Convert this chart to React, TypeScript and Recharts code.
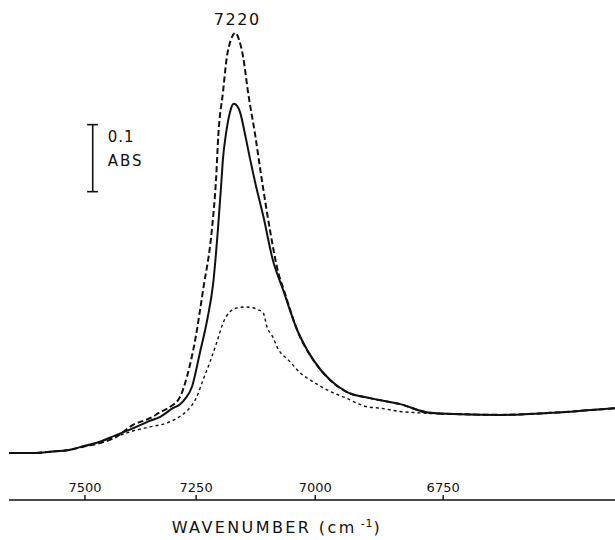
import { LineChart, Line, XAxis, YAxis, ReferenceLine, ReferenceDot } from 'recharts';

// Near-IR absorbance traces, sampled along wavenumber (cm-1), high to low.
const solidWavenumbers = [
  7681, 7630, 7582, 7535, 7500, 7465, 7431, 7397, 7352, 7329, 7301, 7285, 7274, 7259, 7242,
  7226, 7213, 7203, 7196, 7192, 7186, 7177, 7173, 7169, 7162, 7156, 7145, 7135, 7124, 7107,
  7087, 7066, 7037, 7004, 6970, 6936, 6891, 6832, 6775, 6718, 6644, 6554, 6501, 6441,
];
const solidAbsorbance = [
  0.07, 0.07, 0.072, 0.075, 0.081, 0.087, 0.096, 0.105, 0.118, 0.124, 0.137, 0.143, 0.151, 0.169, 0.219,
  0.269, 0.324, 0.403, 0.47, 0.51, 0.545, 0.579, 0.588, 0.591, 0.588, 0.579, 0.545, 0.51, 0.474, 0.424,
  0.358, 0.314, 0.254, 0.209, 0.179, 0.161, 0.152, 0.143, 0.13, 0.128, 0.127, 0.13, 0.133, 0.137,
];

const dashedWavenumbers = [
  7681, 7630, 7582, 7535, 7500, 7465, 7431, 7390, 7352, 7329, 7307, 7285, 7270, 7252, 7235,
  7216, 7207, 7202, 7192, 7184, 7175, 7166, 7158, 7149, 7139, 7124, 7110, 7093, 7076, 7064,
  7037, 7004, 6970, 6936, 6891, 6832, 6775, 6718, 6644, 6554, 6501, 6441,
];
const dashedAbsorbance = [
  0.07, 0.07, 0.072, 0.075, 0.08, 0.085, 0.093, 0.112, 0.122, 0.131, 0.139, 0.154, 0.184, 0.239, 0.313,
  0.403, 0.478, 0.545, 0.609, 0.66, 0.687, 0.697, 0.687, 0.66, 0.609, 0.545, 0.478, 0.403, 0.34, 0.313,
  0.254, 0.209, 0.179, 0.161, 0.152, 0.143, 0.13, 0.128, 0.127, 0.13, 0.133, 0.137,
];

const dottedWavenumbers = [
  7681, 7630, 7582, 7535, 7500, 7465, 7431, 7390, 7352, 7314, 7285, 7270, 7250, 7235, 7220,
  7205, 7192, 7177, 7160, 7145, 7130, 7118, 7107, 7099, 7087, 7078, 7051, 7031, 7010, 6964,
  6944, 6896, 6871, 6832, 6794, 6775, 6718, 6644, 6554, 6501, 6441,
];
const dottedAbsorbance = [
  0.07, 0.07, 0.072, 0.075, 0.08, 0.087, 0.094, 0.103, 0.109, 0.115, 0.125, 0.133, 0.152, 0.179, 0.206,
  0.236, 0.264, 0.281, 0.287, 0.288, 0.287, 0.284, 0.279, 0.258, 0.243, 0.228, 0.206, 0.19, 0.179, 0.16,
  0.154, 0.139, 0.137, 0.132, 0.13, 0.129, 0.128, 0.127, 0.13, 0.133, 0.137,
];

const tickWavenumbers = [7500, 7250, 7000, 6750];
const rangeWavenumbers = [7681, 6441];
const absorbanceRange = [0, 0.74];

const peakLabel = '7220';
const scaleBarWavenumber = 7482;
const scaleBarCapWavenumbers = [7495, 7470];
const scaleBarBottom = 0.46;
const scaleBarSize = 0.1;

const INK = '#111';
const FONT = '"DejaVu Sans", sans-serif';

// the abscissa is drawn linear in wavelength (nm), labelled in wavenumber
const toLambda = (nu: number) => 1e7 / nu;

const buildSeries = (nu: number[], abs: number[]) =>
  nu.map((n, i) => ({ lambda: toLambda(n), abs: abs[i] }));

const solidData = buildSeries(solidWavenumbers, solidAbsorbance);
const dashedData = buildSeries(dashedWavenumbers, dashedAbsorbance);
const dottedData = buildSeries(dottedWavenumbers, dottedAbsorbance);

const dashedPeak = dashedData.reduce((a, b) => (b.abs > a.abs ? b : a));

const scaleTop = scaleBarBottom + scaleBarSize;

function AxisTitle({ viewBox }: any) {
  const x = viewBox.x + 268;
  const y = viewBox.y + viewBox.height + 33;
  return (
    <text x={x} y={y} textAnchor="middle" fill={INK} fontFamily={FONT} fontSize={16} letterSpacing={2.4}>
      WAVENUMBER (cm
      <tspan dx={4} dy={-6} fontSize={11} letterSpacing={1}>-1</tspan>
      <tspan dy={6}>)</tspan>
    </text>
  );
}

function ScaleLabel({ viewBox }: any) {
  const x = viewBox.x + 15;
  const y = viewBox.y;
  return (
    <g fill={INK} fontFamily={FONT} fontSize={15}>
      <text x={x} y={y + 17} letterSpacing={1}>{scaleBarSize.toFixed(1)}</text>
      <text x={x} y={y + 41} letterSpacing={2}>ABS</text>
    </g>
  );
}

function PeakLabel({ viewBox }: any) {
  return (
    <text
      x={viewBox.x + 2}
      y={viewBox.y - 8}
      textAnchor="middle"
      fill={INK}
      fontFamily={FONT}
      fontSize={16}
      letterSpacing={1.5}
    >
      {peakLabel}
    </text>
  );
}

export default function App() {
  return (
    <div style={{ position: 'absolute', left: 0, top: 0, background: '#fff' }}>
      <LineChart width={615} height={540} margin={{ top: 4, right: 0, bottom: 40, left: 9 }}>
        <XAxis
          dataKey="lambda"
          type="number"
          domain={rangeWavenumbers.map(toLambda)}
          allowDataOverflow
          ticks={tickWavenumbers.map(toLambda)}
          tickFormatter={(v: number) => String(Math.round(1e7 / v))}
          mirror
          tickSize={5}
          tickMargin={3}
          axisLine={{ stroke: INK, strokeWidth: 1.6 }}
          tickLine={{ stroke: INK, strokeWidth: 1.4 }}
          tick={{ fill: INK, fontSize: 13, fontFamily: FONT }}
          label={<AxisTitle />}
        />
        <YAxis type="number" domain={absorbanceRange} allowDataOverflow hide />

        <ReferenceLine
          segment={[
            { x: toLambda(scaleBarWavenumber), y: scaleBarBottom },
            { x: toLambda(scaleBarWavenumber), y: scaleTop },
          ]}
          stroke={INK}
          strokeWidth={1.6}
          label={<ScaleLabel />}
        />
        <ReferenceLine
          segment={[
            { x: toLambda(scaleBarCapWavenumbers[0]), y: scaleBarBottom },
            { x: toLambda(scaleBarCapWavenumbers[1]), y: scaleBarBottom },
          ]}
          stroke={INK}
          strokeWidth={1.6}
        />
        <ReferenceLine
          segment={[
            { x: toLambda(scaleBarCapWavenumbers[0]), y: scaleTop },
            { x: toLambda(scaleBarCapWavenumbers[1]), y: scaleTop },
          ]}
          stroke={INK}
          strokeWidth={1.6}
        />

        <Line
          data={dottedData}
          dataKey="abs"
          type="monotone"
          stroke={INK}
          strokeWidth={1.4}
          strokeDasharray="3 3"
          dot={false}
          activeDot={false}
          isAnimationActive={false}
        />
        <Line
          data={solidData}
          dataKey="abs"
          type="monotone"
          stroke={INK}
          strokeWidth={2}
          dot={false}
          activeDot={false}
          isAnimationActive={false}
        />
        <Line
          data={dashedData}
          dataKey="abs"
          type="monotone"
          stroke={INK}
          strokeWidth={2}
          strokeDasharray="6 3"
          dot={false}
          activeDot={false}
          isAnimationActive={false}
        />

        <ReferenceDot x={dashedPeak.lambda} y={dashedPeak.abs} r={0} stroke="none" fill="none" label={<PeakLabel />} />
      </LineChart>
    </div>
  );
}
